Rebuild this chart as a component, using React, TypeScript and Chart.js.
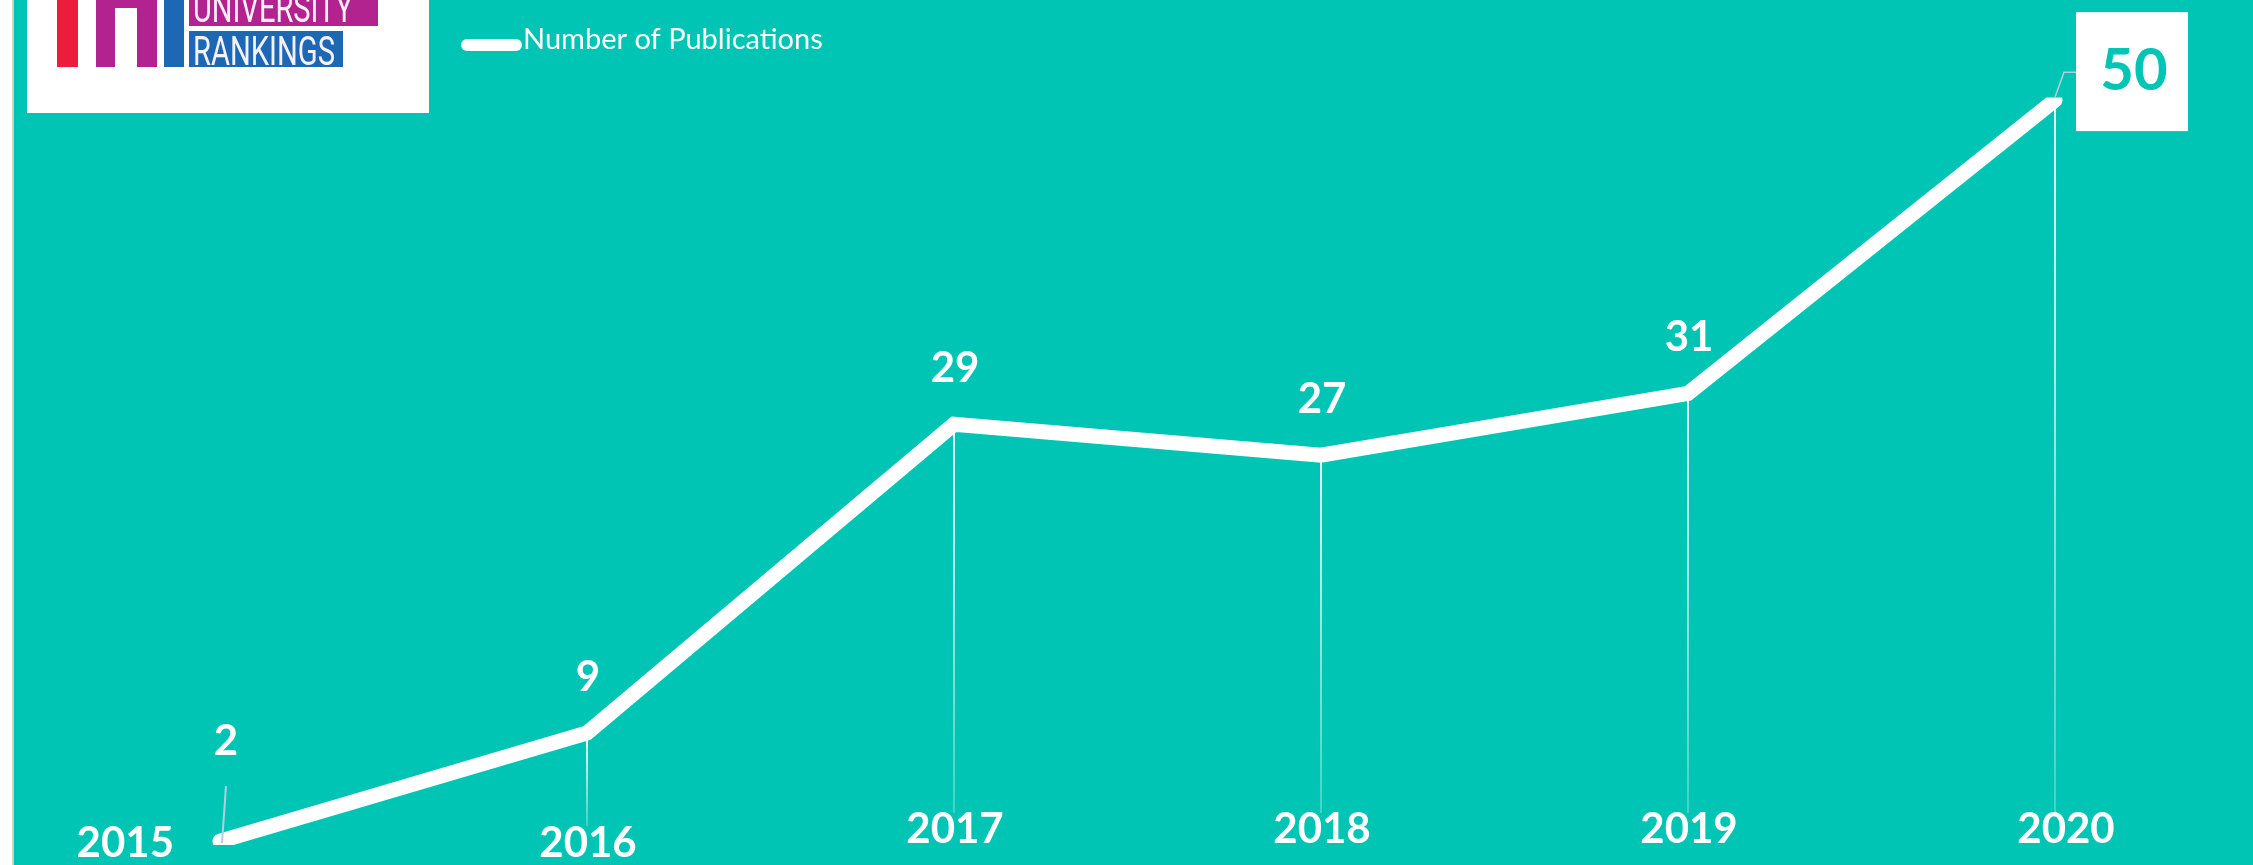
import React, { useEffect, useRef } from "react";
import { Chart, registerables } from "chart.js";

Chart.register(...registerables);

// ---- data ----
const years: string[] = ["2015", "2016", "2017", "2018", "2019", "2020"];
const publications: number[] = [2, 9, 29, 27, 31, 50];
const seriesName = "Number of Publications";
const logoWords: string[] = ["UNIVERSITY", "RANKINGS"];

// ---- styles ----
const TEAL = "#00C5B5";
const LEADER = "#b3cde0";
const FONT = "Lato, 'Open Sans', 'Noto Sans', sans-serif";

const overlay = {
  id: "overlay",
  beforeDatasetsDraw(chart: any) {
    const ctx = chart.ctx as CanvasRenderingContext2D;
    const pts = chart.getDatasetMeta(0).data;
    const bottom = chart.chartArea.bottom;
    ctx.save();
    pts.forEach((p: any, i: number) => {
      if (i === 0) return;
      const labelBase = i === 1 ? bottom - 16 : bottom - 29;
      const y0 = p.y + 6;
      const y1 = labelBase - 30;
      const g = ctx.createLinearGradient(0, y0, 0, y1);
      g.addColorStop(0, "rgba(255,255,255,0.9)");
      g.addColorStop(1, "rgba(255,255,255,0.25)");
      ctx.strokeStyle = g;
      ctx.lineWidth = 2;
      ctx.beginPath();
      ctx.moveTo(p.x, y0);
      ctx.lineTo(p.x, y1);
      ctx.stroke();
    });
    ctx.restore();
  },
  afterDatasetsDraw(chart: any) {
    const ctx = chart.ctx as CanvasRenderingContext2D;
    const pts = chart.getDatasetMeta(0).data;
    const values = chart.data.datasets[0].data as number[];
    const labels = chart.data.labels as string[];
    const bottom = chart.chartArea.bottom;
    const last = pts.length - 1;
    ctx.save();

    // year labels
    ctx.fillStyle = "#ffffff";
    ctx.font = `bold 42px ${FONT}`;
    ctx.textBaseline = "alphabetic";
    pts.forEach((p: any, i: number) => {
      const base = i <= 1 ? bottom - 15 : bottom - 29;
      if (i === 0) {
        ctx.textAlign = "right";
        ctx.fillText(labels[i], p.x - 46, base);
      } else {
        ctx.textAlign = "center";
        ctx.fillText(labels[i], p.x + (i === last ? 11 : 1), base);
      }
    });

    // value labels
    pts.forEach((p: any, i: number) => {
      const txt = String(values[i]);
      if (i === last) {
        ctx.strokeStyle = LEADER;
        ctx.lineWidth = 1.5;
        ctx.beginPath();
        ctx.moveTo(p.x, p.y - 3);
        ctx.lineTo(p.x + 9, p.y - 28);
        ctx.lineTo(p.x + 21, p.y - 28);
        ctx.stroke();
        ctx.fillStyle = "#ffffff";
        ctx.fillRect(p.x + 21, p.y - 88, 112, 119);
        ctx.fillStyle = TEAL;
        ctx.font = `bold 58px ${FONT}`;
        ctx.textAlign = "center";
        ctx.fillText(txt, p.x + 79, p.y - 10);
      } else if (i === 0) {
        ctx.strokeStyle = LEADER;
        ctx.lineWidth = 2;
        ctx.beginPath();
        ctx.moveTo(p.x + 6, p.y - 55);
        ctx.lineTo(p.x + 2, p.y + 2);
        ctx.stroke();
        ctx.fillStyle = "#ffffff";
        ctx.font = `bold 42px ${FONT}`;
        ctx.textAlign = "center";
        ctx.fillText(txt, p.x + 6, p.y - 86);
      } else {
        ctx.fillStyle = "#ffffff";
        ctx.font = `bold 42px ${FONT}`;
        ctx.textAlign = "center";
        ctx.fillText(txt, p.x + 1, p.y - 42);
      }
    });

    // legend
    ctx.fillStyle = "#ffffff";
    ctx.beginPath();
    (ctx as any).roundRect(461, 39, 61, 12, 6);
    ctx.fill();
    ctx.font = `29px ${FONT}`;
    ctx.textAlign = "left";
    ctx.fillText(chart.data.datasets[0].label, 523, 49);

    // logo
    ctx.fillStyle = "#ffffff";
    ctx.fillRect(27, 0, 402, 113);
    ctx.fillStyle = "#ec1c3c";
    ctx.fillRect(57, 0, 21, 67);
    ctx.fillStyle = "#b2238f";
    ctx.fillRect(96, 0, 61, 67);
    ctx.fillStyle = "#ffffff";
    ctx.fillRect(115, 8, 22, 59);
    ctx.fillStyle = "#1d68b4";
    ctx.fillRect(164, 0, 20, 67);
    ctx.fillStyle = "#b2238f";
    ctx.fillRect(189, 0, 189, 26);
    ctx.fillStyle = "#1d68b4";
    ctx.fillRect(189, 31, 154, 36);
    ctx.fillStyle = "#f6f0f8";
    ctx.font = `40px Roboto, 'DejaVu Sans Condensed', sans-serif`;
    ctx.textAlign = "left";
    ctx.fillText(logoWords[0], 193, 22, 160);
    ctx.fillText(logoWords[1], 193, 65, 142);

    ctx.restore();
  },
};

export default function App() {
  const ref = useRef<HTMLCanvasElement | null>(null);

  useEffect(() => {
    if (!ref.current) return;
    const chart = new Chart(ref.current, {
      type: "line",
      data: {
        labels: years,
        datasets: [
          {
            label: seriesName,
            data: publications,
            borderColor: "#ffffff",
            borderWidth: 15,
            borderCapStyle: "round",
            borderJoinStyle: "miter",
            pointRadius: 0,
            pointHoverRadius: 0,
            fill: false,
            tension: 0,
            clip: { left: false, right: false, top: -90, bottom: -27 } as any,
          },
        ],
      },
      options: {
        responsive: false,
        animation: false,
        events: [],
        layout: { padding: { left: 220, right: 198, top: 2, bottom: 8 } },
        scales: {
          x: { display: false, offset: false },
          y: { display: false, min: 0, max: 56 },
        },
        plugins: {
          legend: { display: false },
          tooltip: { enabled: false },
        },
      },
      plugins: [overlay],
    });
    let alive = true;
    if ((document as any).fonts) {
      Promise.all([
        (document as any).fonts.load(`bold 42px Lato`),
        (document as any).fonts.load(`29px Lato`),
        (document as any).fonts.load(`40px Roboto`),
      ])
        .then(() => {
          if (alive) chart.update();
        })
        .catch(() => {});
    }
    return () => {
      alive = false;
      chart.destroy();
    };
  }, []);

  return (
    <div
      style={{
        position: "absolute",
        left: 0,
        top: 0,
        width: 2253,
        height: 865,
        overflow: "hidden",
        background: "#ffffff",
      }}
    >
      <div
        style={{
          position: "absolute",
          left: 12,
          top: 0,
          width: 2,
          height: 865,
          background: "#cfcfcf",
        }}
      />
      <div
        style={{
          position: "absolute",
          left: 14,
          top: 0,
          width: 2239,
          height: 865,
          background: TEAL,
        }}
      />
      <canvas
        ref={ref}
        width={2253}
        height={880}
        style={{ position: "absolute", left: 0, top: 0, width: 2253, height: 880 }}
      />
    </div>
  );
}
